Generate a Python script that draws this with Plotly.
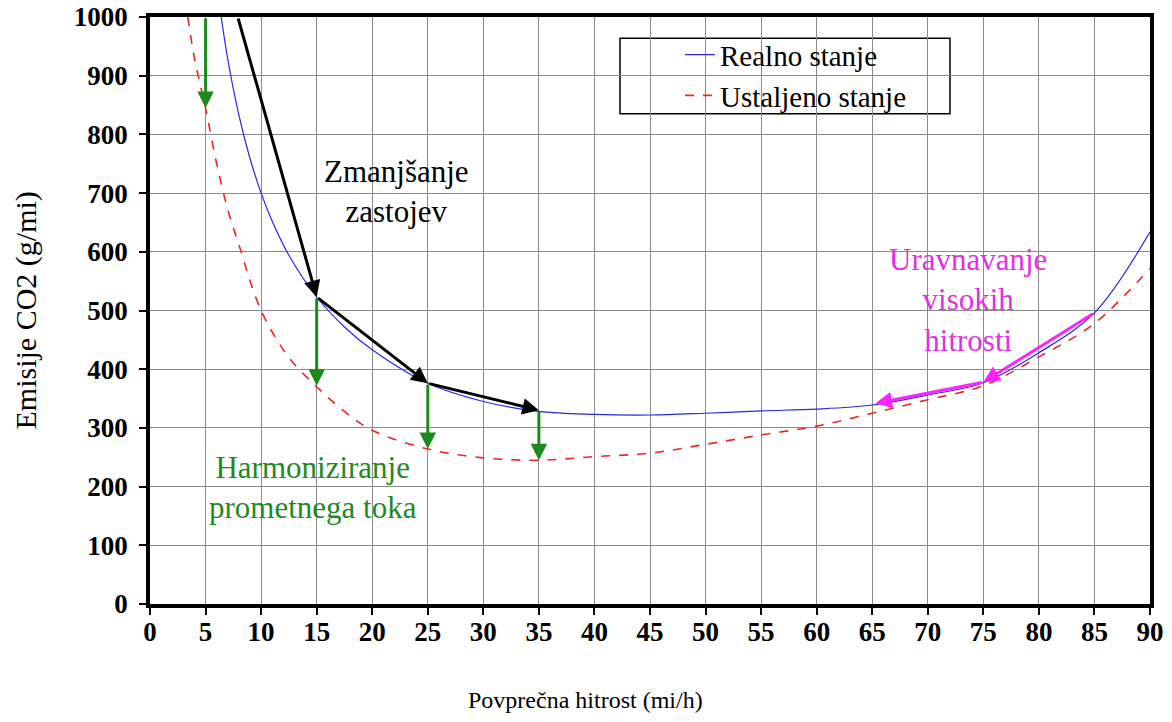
import plotly.graph_objects as go

# ---- data ----
speed_real = [6, 7, 8, 9, 10, 11, 12.5, 15, 17.5, 20, 25, 30, 35, 40, 45, 50, 55, 60, 65, 70, 75, 80, 85, 90]
co2_real = [1054, 928, 833, 759, 700, 652, 594, 523, 472, 433, 376, 345, 328, 323, 322, 325, 329, 332, 339, 356, 377, 428, 496, 634]

speed_steady = [3.4, 4, 5, 6, 7, 8, 10, 12.5, 15, 17.5, 20, 25, 30, 35, 40, 45, 50, 55, 60, 65, 70, 75, 80, 85, 90]
co2_steady = [1000, 930, 845, 750, 672, 612, 500, 420, 370, 328, 296, 264, 249, 245, 251, 257, 272, 288, 303, 325, 348, 372, 421, 478, 572]

# arrows: (from_x, from_y, to_x, to_y)
congestion_arrows = [(7.9, 1000, 15, 523), (15, 523, 25, 376), (25, 376, 35, 330)]
harmonize_arrows = [(5, 1000, 5, 845), (15, 523, 15, 372), (25, 376, 25, 264), (35, 330, 35, 245)]
highspeed_arrows = [(85, 496, 75, 378), (75, 378, 65.3, 342)]

x_ticks = list(range(0, 95, 5))
y_ticks = list(range(0, 1100, 100))

FONT = "Liberation Serif, Times New Roman, serif"
GREEN = "#1E8A1E"
MAGENTA = "#FF22FF"

fig = go.Figure()
fig.add_trace(go.Scatter(x=speed_real, y=co2_real, mode="lines", name="Realno stanje",
                         line=dict(color="#2828E0", width=1.2, shape="spline")))
fig.add_trace(go.Scatter(x=speed_steady, y=co2_steady, mode="lines", name="Ustaljeno stanje",
                         line=dict(color="#E82828", width=1.6, dash="dash", shape="spline")))

def add_arrows(arrs, color):
    for fx, fy, tx, ty in arrs:
        fig.add_annotation(x=tx, y=ty, ax=fx, ay=fy, xref="x", yref="y", axref="x", ayref="y",
                           text="", showarrow=True, arrowhead=2, arrowsize=1.1, arrowwidth=3,
                           arrowcolor=color, standoff=0, startstandoff=0)

add_arrows(congestion_arrows, "black")
add_arrows(harmonize_arrows, GREEN)
add_arrows(highspeed_arrows, MAGENTA)

fig.add_annotation(x=22.2, y=703, xref="x", yref="y", text="Zmanjšanje<br>zastojev", showarrow=False,
                   font=dict(family=FONT, size=31, color="black"))
fig.add_annotation(x=14.7, y=198, xref="x", yref="y", text="Harmoniziranje<br>prometnega toka", showarrow=False,
                   font=dict(family=FONT, size=31, color=GREEN))
fig.add_annotation(x=73.6, y=518, xref="x", yref="y", text="Uravnavanje<br>visokih<br>hitrosti", showarrow=False,
                   font=dict(family=FONT, size=31, color="#E030E0"))

# axis titles
fig.add_annotation(x=0.435, y=-0.1635, xref="paper", yref="paper", text="Povprečna hitrost (mi/h)",
                   showarrow=False, xanchor="center", yanchor="middle",
                   font=dict(family=FONT, size=24, color="black"))
fig.add_annotation(x=-0.125, y=0.5, xref="paper", yref="paper", text="Emisije CO2 (g/mi)", textangle=-90,
                   showarrow=False, xanchor="center", yanchor="middle",
                   font=dict(family=FONT, size=30, color="black"))

# legend box
fig.add_shape(type="rect", xref="paper", yref="paper", x0=0.47, x1=0.80, y0=0.835, y1=0.964,
              line=dict(color="black", width=1.5), fillcolor="white", layer="below")

fig.update_layout(
    width=1172, height=722,
    margin=dict(l=150, r=22, t=17, b=118, autoexpand=False),
    paper_bgcolor="white", plot_bgcolor="white",
    font=dict(family=FONT, color="black"),
    showlegend=True,
    legend=dict(x=0.53, y=0.979, xanchor="left", yanchor="top", bgcolor="rgba(0,0,0,0)",
                font=dict(family=FONT, size=29), traceorder="normal"),
    xaxis=dict(range=[0, 90], tickvals=x_ticks, ticks="outside", ticklen=7, tickwidth=1.5, tickcolor="black",
               showgrid=True, gridcolor="#8a8a8a", gridwidth=1, showline=True, linecolor="black", linewidth=3.5,
               mirror=True, zeroline=False, automargin=False, ticklabelstandoff=-6, ticklabeloverflow="allow",
               tickfont=dict(family=FONT, size=27, weight="bold")),
    yaxis=dict(range=[0, 1000], tickvals=y_ticks, ticks="outside", ticklen=7, tickwidth=1.5, tickcolor="black",
               showgrid=True, gridcolor="#8a8a8a", gridwidth=1, showline=True, linecolor="black", linewidth=3.5,
               mirror=True, zeroline=False, automargin=False, ticklabelstandoff=6, ticklabeloverflow="allow",
               tickfont=dict(family=FONT, size=27, weight="bold")),
)

fig.write_html("out.html", config={"displayModeBar": False},
               post_script="document.body.style.margin='0';")
